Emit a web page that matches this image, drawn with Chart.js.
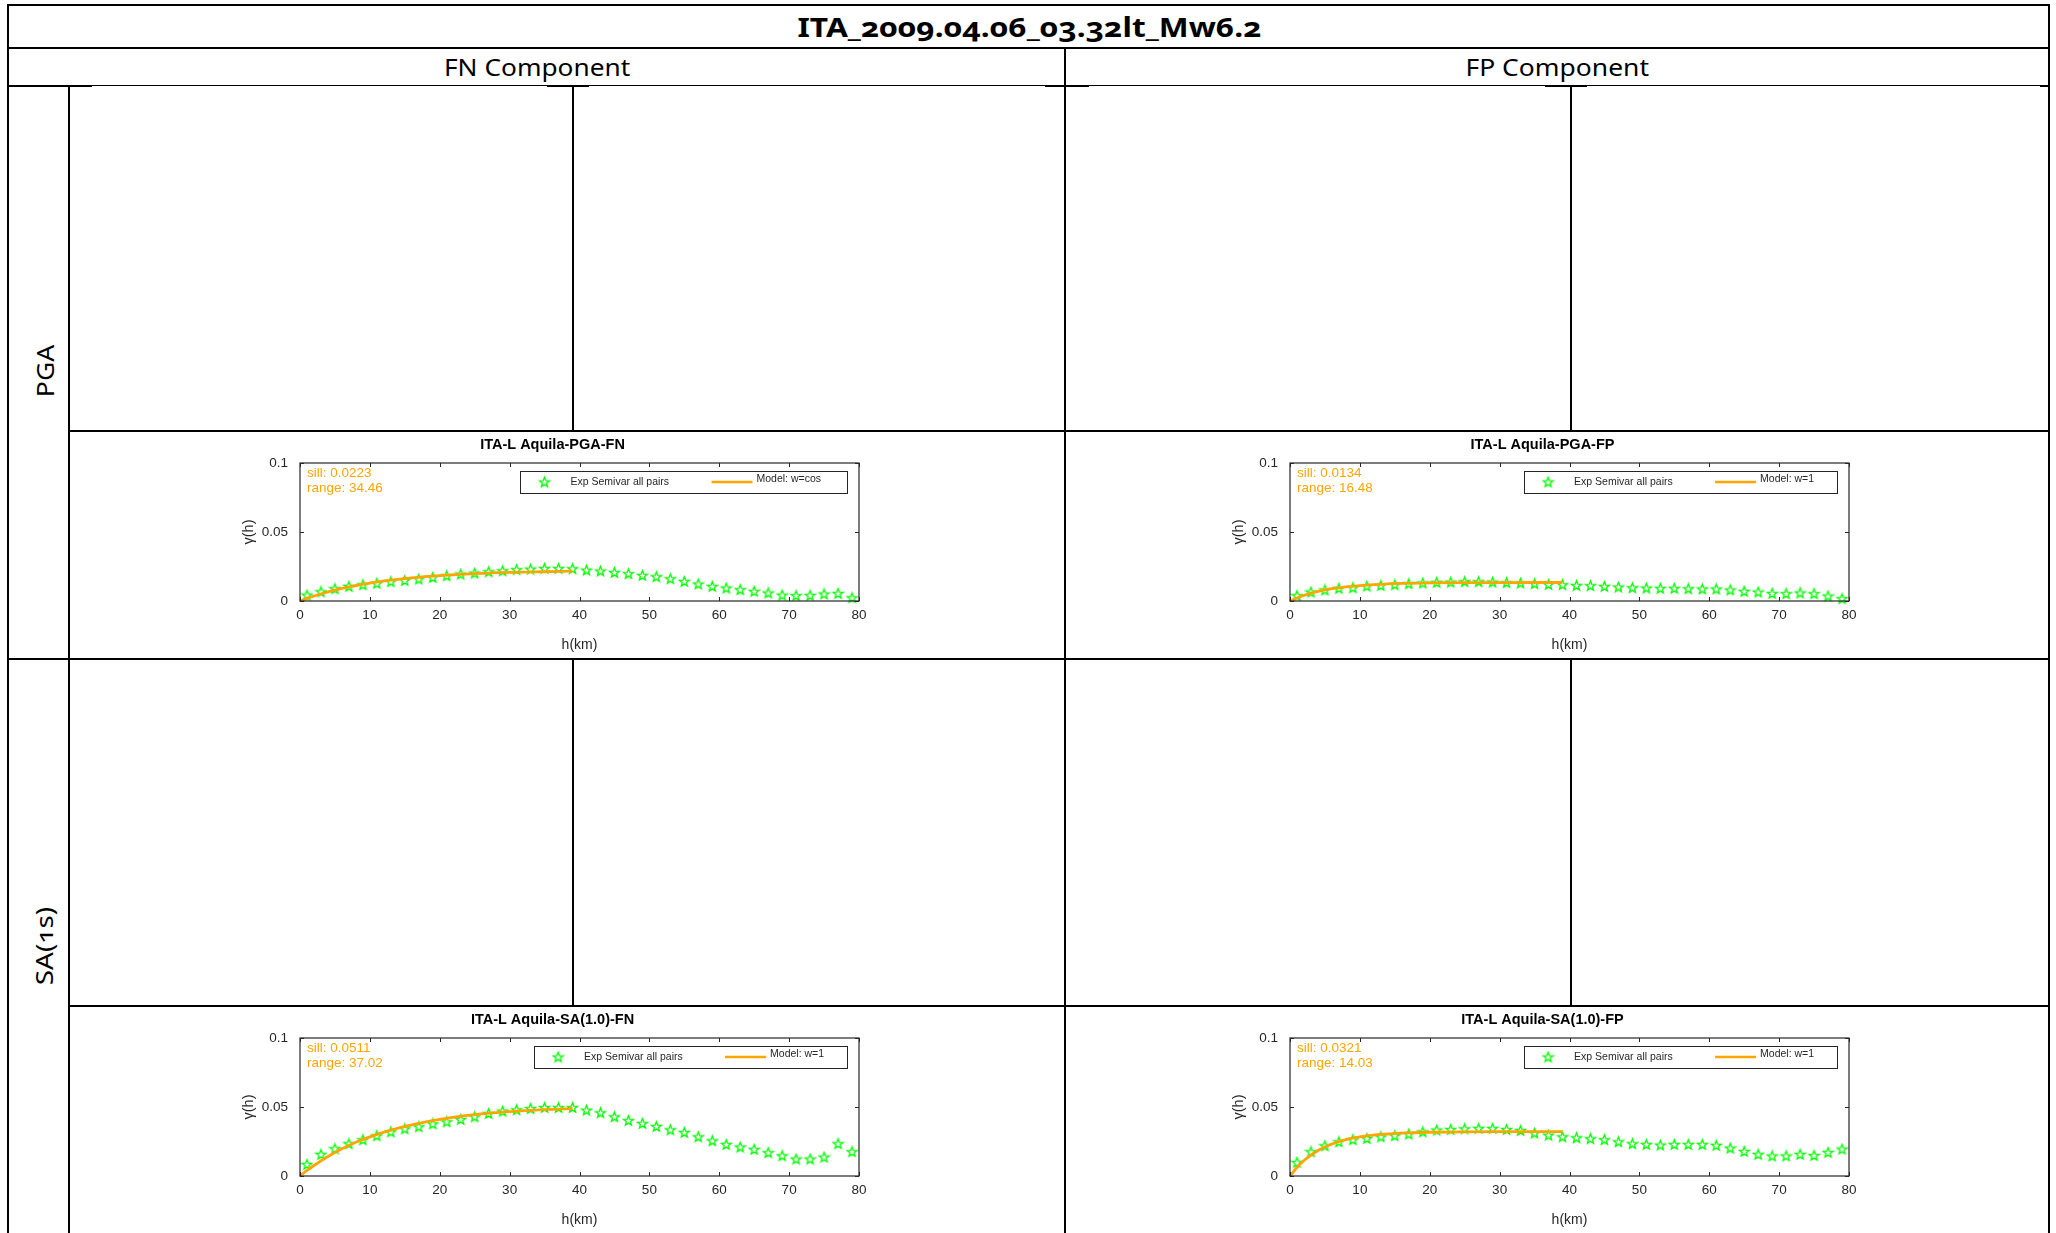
<!DOCTYPE html>
<html>
<head>
<meta charset="utf-8">
<title>ITA_2009.04.06_03.32lt_Mw6.2</title>
<script src="https://cdn.jsdelivr.net/npm/chart.js@4.4.1/dist/chart.umd.min.js"></script>
<style>
  html, body { margin: 0; padding: 0; background: #fff; }
  body { position: relative; width: 2056px; height: 1233px; overflow: hidden; }
  .rule { position: absolute; background: #000; }
  .cap { position: absolute; white-space: nowrap; line-height: 1; color: #000;
         font-family: "Noto Sans", "Open Sans", sans-serif; font-feature-settings: "onum" 1;
         transform-origin: 50% 50%; }
  canvas.panel { position: absolute; }
</style>
</head>
<body>
<script>
// ---------------- data ----------------
const figureTitle = 'ITA_2009.04.06_03.32lt_Mw6.2';
const columnHeaders = ['FN Component', 'FP Component'];
const rowHeaders = ['PGA', 'SA(1s)'];
const panelTitles = ['ITA-L Aquila-PGA-FN', 'ITA-L Aquila-PGA-FP', 'ITA-L Aquila-SA(1.0)-FN', 'ITA-L Aquila-SA(1.0)-FP'];
const sillLabels = ['0.0223', '0.0134', '0.0511', '0.0321'];
const rangeLabels = ['34.46', '16.48', '37.02', '14.03'];
const modelLabels = ['Model: w=cos', 'Model: w=1', 'Model: w=1', 'Model: w=1'];
const expLabel = 'Exp Semivar all pairs';

const xTicks = [0, 10, 20, 30, 40, 50, 60, 70, 80];
const yTicks = [0, 0.05, 0.1];
const yTickLabels = ['0', '0.05', '0.1'];

// experimental semivariogram: lag-bin centres (km) and gamma values
const lagH = [1, 3, 5, 7, 9, 11, 13, 15, 17, 19, 21, 23, 25, 27, 29, 31, 33, 35, 37, 39,
              41, 43, 45, 47, 49, 51, 53, 55, 57, 59, 61, 63, 65, 67, 69, 71, 73, 75, 77, 79];
const gammaPgaFN = [0.0043, 0.0067, 0.0089, 0.0106, 0.0118, 0.0128, 0.0140, 0.0149, 0.0159, 0.0171,
                    0.0183, 0.0195, 0.0202, 0.0212, 0.0219, 0.0227, 0.0231, 0.0236, 0.0236, 0.0234,
                    0.0224, 0.0217, 0.0207, 0.0198, 0.0186, 0.0176, 0.0161, 0.0142, 0.0123, 0.0106,
                    0.0094, 0.0082, 0.0070, 0.0058, 0.0043, 0.0039, 0.0041, 0.0051, 0.0055, 0.0024];
const gammaPgaFP = [0.0039, 0.0065, 0.0080, 0.0092, 0.0096, 0.0108, 0.0113, 0.0118, 0.0125, 0.0130,
                    0.0135, 0.0137, 0.0140, 0.0140, 0.0137, 0.0133, 0.0130, 0.0125, 0.0120, 0.0118,
                    0.0113, 0.0111, 0.0106, 0.0101, 0.0096, 0.0094, 0.0092, 0.0092, 0.0089, 0.0087,
                    0.0087, 0.0080, 0.0070, 0.0065, 0.0055, 0.0053, 0.0058, 0.0053, 0.0036, 0.0017];
const gammaSaFN = [0.0084, 0.0157, 0.0198, 0.0234, 0.0263, 0.0292, 0.0320, 0.0342, 0.0357, 0.0378,
                   0.0393, 0.0410, 0.0429, 0.0453, 0.0470, 0.0480, 0.0489, 0.0496, 0.0496, 0.0496,
                   0.0477, 0.0458, 0.0429, 0.0402, 0.0381, 0.0359, 0.0335, 0.0316, 0.0284, 0.0255,
                   0.0229, 0.0210, 0.0193, 0.0169, 0.0147, 0.0123, 0.0123, 0.0137, 0.0234, 0.0176];
const gammaSaFP = [0.0099, 0.0176, 0.0219, 0.0248, 0.0263, 0.0272, 0.0284, 0.0292, 0.0304, 0.0320,
                   0.0333, 0.0337, 0.0342, 0.0345, 0.0345, 0.0337, 0.0330, 0.0311, 0.0296, 0.0284,
                   0.0277, 0.0270, 0.0263, 0.0248, 0.0234, 0.0229, 0.0224, 0.0229, 0.0229, 0.0229,
                   0.0222, 0.0202, 0.0178, 0.0157, 0.0145, 0.0145, 0.0157, 0.0149, 0.0171, 0.0195];

// fitted model curves (km, gamma)
const modelH = [0, 1, 2, 4, 6, 8, 10, 13, 16, 20, 25, 30, 35, 39];
const modelPgaFN = [0, 0.0019, 0.0036, 0.0066, 0.0091, 0.0112, 0.0130, 0.0151, 0.0168, 0.0184, 0.0198, 0.0207, 0.0212, 0.0216];
const modelPgaFP = [0, 0.0022, 0.0041, 0.0069, 0.0089, 0.0103, 0.0112, 0.0121, 0.0127, 0.0131, 0.0133, 0.0133, 0.0134, 0.0134];
const modelSaFN  = [0, 0.0040, 0.0076, 0.0141, 0.0197, 0.0244, 0.0284, 0.0333, 0.0371, 0.0410, 0.0444, 0.0466, 0.0481, 0.0489];
const modelSaFP  = [0, 0.0062, 0.0112, 0.0185, 0.0232, 0.0263, 0.0283, 0.0301, 0.0311, 0.0317, 0.0320, 0.0321, 0.0321, 0.0321];

// ---------------- page frame ----------------
// [left, top, width, height]
const frameRules = [
  [7, 4, 2043, 2], [7, 4, 2, 1229], [2048, 4, 2, 1229],
  [7, 46.5, 2043, 2],
  [7, 85, 2043, 1.3],
  [7, 84.5, 85, 2.5], [547, 84.5, 42, 2.5], [1045, 84.5, 44, 2.5], [1545, 84.5, 42, 2.5], [2040, 84.5, 10, 2.5],
  [68, 85, 2, 1148],
  [1063.7, 47, 2, 1186],
  [7, 658.3, 2043, 2],
  [68, 430, 1982, 2], [68, 1005, 1982, 2],
  [572, 86, 2, 345], [1570, 86, 2, 345], [572, 660, 2, 346], [1570, 660, 2, 346]
];
frameRules.forEach(r => {
  const d = document.createElement('div');
  d.className = 'rule';
  d.style.left = r[0] + 'px'; d.style.top = r[1] + 'px';
  d.style.width = r[2] + 'px'; d.style.height = r[3] + 'px';
  document.body.appendChild(d);
});

const frameTexts = [
  { text: figureTitle,      cx: 1029,  cy: 26,  len: 464, size: 27, weight: 700, rot: 0 },
  { text: columnHeaders[0], cx: 536.5, cy: 67,  len: 186, size: 24, weight: 400, rot: 0 },
  { text: columnHeaders[1], cx: 1557,  cy: 67,  len: 184, size: 24, weight: 400, rot: 0 },
  { text: rowHeaders[0],    cx: 44,    cy: 371, len: 52,  size: 24, weight: 400, rot: -90 },
  { text: rowHeaders[1],    cx: 44,    cy: 946, len: 79,  size: 24, weight: 400, rot: -90 }
];
function placeCaptions() {
  frameTexts.forEach(t => {
    const el = document.createElement('div');
    el.className = 'cap';
    el.textContent = t.text;
    el.style.fontSize = t.size + 'px';
    el.style.fontWeight = t.weight;
    document.body.appendChild(el);
    const w = el.offsetWidth, h = el.offsetHeight;
    el.style.left = (t.cx - w / 2) + 'px';
    el.style.top = (t.cy - h / 2) + 'px';
    el.style.transform = 'rotate(' + t.rot + 'deg) scaleX(' + (t.len / w) + ')';
  });
}
if (document.fonts && document.fonts.ready) document.fonts.ready.then(placeCaptions); else placeCaptions();

// ---------------- plots ----------------
const GREEN = '#00FF00', ORANGE = '#FFA500', INK = '#262626';
Chart.defaults.font.family = '"Liberation Sans", Arial, Helvetica, sans-serif';
Chart.defaults.color = INK;

function makeStar(size, color) {
  const c = document.createElement('canvas');
  c.width = size; c.height = size;
  const g = c.getContext('2d');
  const cx = size / 2, cy = size / 2 + 0.4, R = size / 2 - 1.3, r = R * 0.42;
  g.beginPath();
  for (let k = 0; k < 10; k++) {
    const a = -Math.PI / 2 + k * Math.PI / 5;
    const rad = (k % 2) ? r : R;
    g.lineTo(cx + rad * Math.cos(a), cy + rad * Math.sin(a));
  }
  g.closePath();
  g.strokeStyle = color; g.lineWidth = 1.3; g.lineJoin = 'miter';
  g.stroke();
  return c;
}
const starImg = makeStar(13, GREEN);

// axes box, inward ticks, legend and fit annotation
const panelDecor = {
  id: 'panelDecor',
  afterDraw(chart, args, o) {
    const ctx = chart.ctx, ca = chart.chartArea;
    const xs = chart.scales.x, ys = chart.scales.y;
    ctx.save();
    ctx.strokeStyle = INK; ctx.lineWidth = 1.2;
    ctx.strokeRect(ca.left, ca.top, ca.right - ca.left, ca.bottom - ca.top);
    ctx.lineWidth = 1;
    ctx.beginPath();
    xTicks.forEach(v => {
      const px = Math.round(xs.getPixelForValue(v)) + 0.5;
      ctx.moveTo(px, ca.bottom); ctx.lineTo(px, ca.bottom - 4);
      ctx.moveTo(px, ca.top); ctx.lineTo(px, ca.top + 4);
    });
    yTicks.forEach(v => {
      const py = Math.round(ys.getPixelForValue(v)) + 0.5;
      ctx.moveTo(ca.left, py); ctx.lineTo(ca.left + 4, py);
      ctx.moveTo(ca.right, py); ctx.lineTo(ca.right - 4, py);
    });
    ctx.stroke();

    // fit annotation
    ctx.fillStyle = ORANGE;
    ctx.font = '13.5px "Liberation Sans", Arial, sans-serif';
    ctx.textAlign = 'left'; ctx.textBaseline = 'middle';
    ctx.fillText('sill: ' + o.sill, ca.left + 7, ca.top + 10.5);
    ctx.fillText('range: ' + o.range, ca.left + 7, ca.top + 25.5);

    // legend
    const bx = ca.left + o.legendLeft, by = ca.top + 8;
    const bw = (ca.right - 12) - bx, bh = 22;
    ctx.fillStyle = '#fff';
    ctx.fillRect(bx, by, bw, bh);
    ctx.strokeStyle = INK; ctx.lineWidth = 1;
    ctx.strokeRect(Math.round(bx) + 0.5, Math.round(by) + 0.5, Math.round(bw), bh);
    const my = by + 11;
    ctx.drawImage(starImg, bx + 24.5 - starImg.width / 2, my - starImg.height / 2);
    ctx.fillStyle = INK;
    ctx.font = '10.5px "Liberation Sans", Arial, sans-serif';
    ctx.fillText(expLabel, bx + 50.5, my + 0.5);
    ctx.strokeStyle = ORANGE; ctx.lineWidth = 2.6;
    ctx.beginPath(); ctx.moveTo(bx + 191.5, my); ctx.lineTo(bx + 232.5, my); ctx.stroke();
    ctx.fillText(o.modelLabel, bx + 236.5, my - 2.5);
    ctx.restore();
  }
};

const panelSpecs = [
  { gamma: gammaPgaFN, model: modelPgaFN },
  { gamma: gammaPgaFP, model: modelPgaFP },
  { gamma: gammaSaFN,  model: modelSaFN },
  { gamma: gammaSaFP,  model: modelSaFP }
];
// canvas placement [left, top] and legend offset inside the axes
const panelLayout = [
  { left: 200,  top: 433,  legendLeft: 220 },
  { left: 1190, top: 433,  legendLeft: 233.6 },
  { left: 200,  top: 1008, legendLeft: 233.6 },
  { left: 1190, top: 1008, legendLeft: 233.6 }
];

panelSpecs.forEach((p, i) => {
  const lay = panelLayout[i];
  const cv = document.createElement('canvas');
  cv.className = 'panel';
  cv.width = 705; cv.height = 224;
  cv.style.left = lay.left + 'px'; cv.style.top = lay.top + 'px';
  cv.style.width = '705px'; cv.style.height = '224px';
  document.body.appendChild(cv);

  new Chart(cv.getContext('2d'), {
    type: 'scatter',
    data: {
      datasets: [
        {
          label: modelLabels[i],
          data: modelH.map((h, k) => ({ x: h, y: p.model[k] })),
          showLine: true, borderColor: ORANGE, backgroundColor: ORANGE,
          borderWidth: 2.8, pointRadius: 0, cubicInterpolationMode: 'monotone',
          order: 0, clip: false
        },
        {
          label: expLabel,
          data: lagH.map((h, k) => ({ x: h, y: p.gamma[k] })),
          showLine: false, pointStyle: starImg, pointRadius: 6,
          order: 1, clip: false
        }
      ]
    },
    options: {
      responsive: false, animation: false, devicePixelRatio: 1,
      layout: { padding: { left: 0, right: 0, top: 0, bottom: 0 } },
      plugins: {
        legend: { display: false },
        tooltip: { enabled: false },
        title: {
          display: true, text: panelTitles[i], color: '#000',
          font: { size: 14.5, weight: 'bold', lineHeight: 1.2 },
          padding: { top: 3, bottom: 9.6 }
        },
        panelDecor: { sill: sillLabels[i], range: rangeLabels[i], modelLabel: modelLabels[i], legendLeft: lay.legendLeft }
      },
      scales: {
        x: {
          type: 'linear', position: 'bottom', min: 0, max: 80,
          afterBuildTicks: s => { s.ticks = xTicks.map(v => ({ value: v })); },
          afterFit: s => { s.height = 56; },
          grid: { display: false, drawTicks: false }, border: { display: false },
          ticks: { autoSkip: false, maxRotation: 0, padding: 6, color: INK, font: { size: 13.5 },
                   callback: v => String(v) },
          title: { display: true, text: 'h(km)', color: INK, font: { size: 14, lineHeight: 1.2 },
                   padding: { top: 0, bottom: 3.5 } }
        },
        y: {
          type: 'linear', position: 'left', min: 0, max: 0.1,
          afterBuildTicks: s => { s.ticks = yTicks.map(v => ({ value: v })); },
          afterFit: s => { s.width = 100; },
          grid: { display: false, drawTicks: false }, border: { display: false },
          ticks: { padding: 12, color: INK, font: { size: 13.5 },
                   callback: (v, k) => yTickLabels[k] },
          title: { display: true, text: 'γ(h)', color: INK, font: { size: 14.5, lineHeight: 1.2 },
                   padding: { top: 40, bottom: 0 } }
        },
        yRight: {
          type: 'linear', position: 'right', display: true, min: 0, max: 1,
          afterFit: s => { s.width = 46; },
          grid: { display: false, drawTicks: false }, border: { display: false },
          ticks: { display: false }
        }
      }
    },
    plugins: [panelDecor]
  });
});
</script>
</body>
</html>
